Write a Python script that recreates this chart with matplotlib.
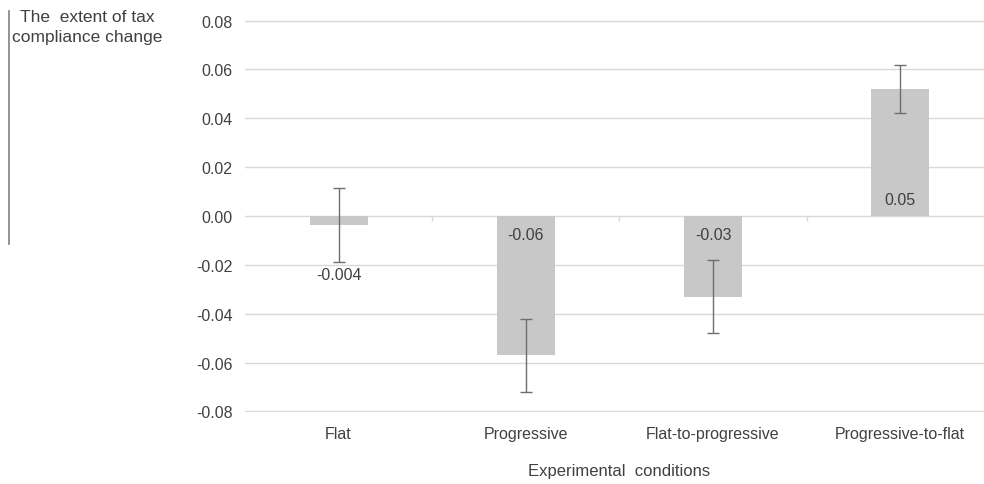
import matplotlib
matplotlib.use('Agg')
import numpy as np
import matplotlib.pyplot as plt
from matplotlib.lines import Line2D

plt.rcParams['font.family'] = ['Liberation Sans', 'DejaVu Sans']

# 数据
conditions = ['Flat', 'Progressive', 'Flat-to-progressive', 'Progressive-to-flat']
means = [-0.0037, -0.057, -0.033, 0.052]
errors = [0.015, 0.015, 0.015, 0.010]
bar_labels = ['-0.004', '-0.06', '-0.03', '0.05']
yticks = [-0.08, -0.06, -0.04, -0.02, 0.00, 0.02, 0.04, 0.06, 0.08]

text_color = '#404040'
bar_color = '#c8c8c8'
grid_color = '#d9d9d9'

fig = plt.figure(figsize=(9.84, 4.85), dpi=100)
ax = fig.add_axes([0.249, 0.1485, 0.761, 0.808])

x = np.arange(len(conditions))
ax.bar(x, means, width=0.31, color=bar_color, zorder=2)
ax.errorbar(x, means, yerr=errors, fmt='none', ecolor='#6e6e6e',
            elinewidth=1.0, capsize=4.5, capthick=1.0, zorder=3)

# 柱上的数值
for i, (m, lab) in enumerate(zip(means, bar_labels)):
    if i == 0:
        ax.text(i, -0.021, lab, ha='center', va='top', fontsize=11.5, color=text_color)
    elif m < 0:
        ax.text(i, -0.0045, lab, ha='center', va='top', fontsize=11.5, color=text_color)
    else:
        ax.text(i, 0.0035, lab, ha='center', va='bottom', fontsize=11.5, color=text_color)

ax.set_xlim(-0.5, len(conditions) - 0.5)
ax.set_ylim(-0.0802, 0.0802)
ax.set_yticks(yticks)
ax.set_yticklabels(['{:.2f}'.format(t) for t in yticks])
ax.yaxis.grid(True, color=grid_color, linewidth=1.0, zorder=0)
ax.set_axisbelow(True)
ax.set_xticks(x)
ax.set_xticklabels(conditions)
ax.tick_params(axis='both', length=0, labelsize=11.5, colors=text_color)
ax.tick_params(axis='x', pad=10)
ax.tick_params(axis='y', pad=9)
for s in ax.spines.values():
    s.set_visible(False)

# 0 轴上的分类刻度
ax.vlines(x[:-1] + 0.5, 0, -0.002, color=grid_color, linewidth=1.0, zorder=1)

ax.set_xlabel('Experimental  conditions', fontsize=12, color=text_color, labelpad=16)

fig.text(0.089, 0.979, 'The  extent of tax\ncompliance change', ha='center', va='top',
         multialignment='center', fontsize=12.5, color=text_color, linespacing=1.4)
fig.add_artist(Line2D([0.009, 0.009], [0.495, 0.975], transform=fig.transFigure,
                      color='#808080', linewidth=1.2))

fig.savefig('out.png', dpi=100)
